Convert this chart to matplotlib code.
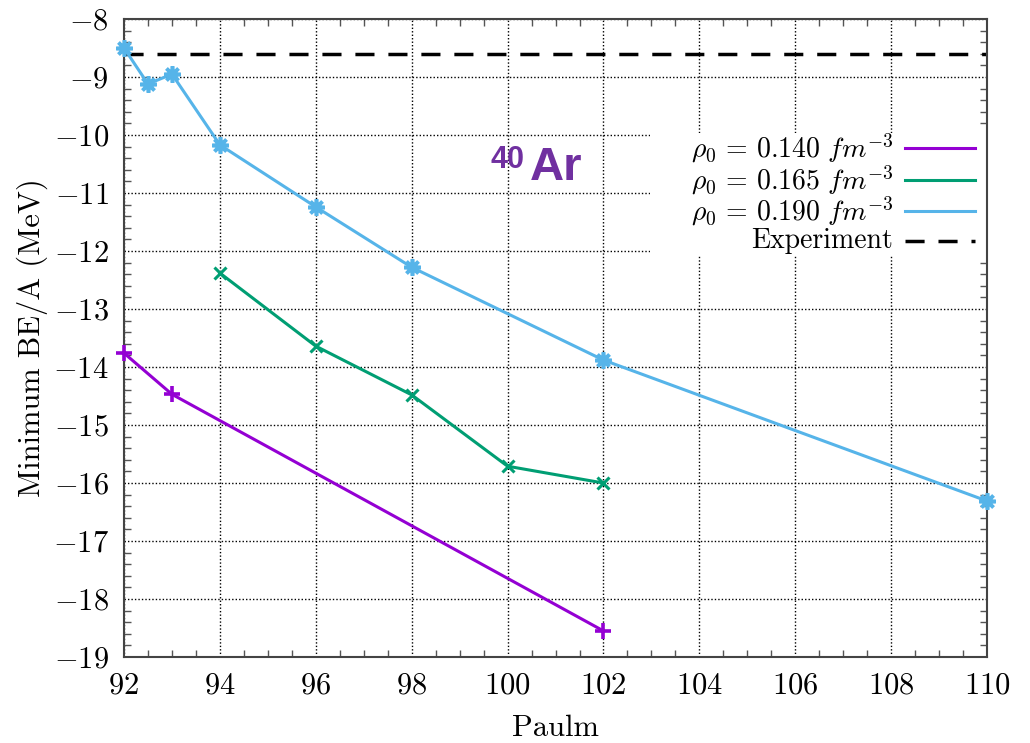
import matplotlib.pyplot as plt
from matplotlib.patches import Rectangle
from matplotlib.ticker import MultipleLocator

plt.rcParams['font.family'] = 'serif'
plt.rcParams['font.serif'] = ['cmr10']
plt.rcParams['mathtext.fontset'] = 'cm'
plt.rcParams['axes.formatter.use_mathtext'] = True

# rho0 = 0.140 fm^-3
paulm_140 = [92, 93, 102]
be_140 = [-13.76, -14.47, -18.55]

# rho0 = 0.165 fm^-3
paulm_165 = [94, 96, 98, 100, 102]
be_165 = [-12.38, -13.64, -14.48, -15.71, -16.0]

# rho0 = 0.190 fm^-3
paulm_190 = [92, 92.5, 93, 94, 96, 98, 102, 110]
be_190 = [-8.5, -9.12, -8.95, -10.17, -11.24, -12.28, -13.88, -16.31]

experiment = -8.6

labels = [r'$\rho_0\,=\,0.140\ fm^{-3}$', r'$\rho_0\,=\,0.165\ fm^{-3}$',
          r'$\rho_0\,=\,0.190\ fm^{-3}$', 'Experiment']

PURPLE = '#9400D3'
GREEN = '#009E73'
BLUE = '#56B4E9'


def draw_key(ax, lines):
    # gnuplot style key: text right-aligned, sample line to the right
    ax.add_patch(Rectangle((0.6095, 0.6285), 0.3905, 0.193, transform=ax.transAxes,
                           facecolor='white', edgecolor='none', zorder=2.4))
    rows = [0.7978, 0.7476, 0.6991, 0.6520]
    for y, lab, ln in zip(rows, labels, lines):
        ax.text(0.891, y, lab, transform=ax.transAxes, ha='right', va='center',
                fontsize=20, zorder=2.45)
        ax.plot([0.905, 0.986], [y, y], transform=ax.transAxes, color=ln.get_color(),
                lw=ln.get_linewidth(), ls=ln.get_linestyle(), zorder=2.45)


def main():
    fig = plt.figure(figsize=(10.3, 7.43), dpi=100)
    ax = fig.add_axes([0.1204, 0.1157, 0.8379, 0.8587])

    l1, = ax.plot(paulm_140, be_140, color=PURPLE, lw=2.2, marker='+', ms=11, mew=2.6,
                  clip_on=False, zorder=3)
    l2, = ax.plot(paulm_165, be_165, color=GREEN, lw=2.2, marker='x', ms=9, mew=2.2,
                  clip_on=False, zorder=3)
    l3, = ax.plot(paulm_190, be_190, color=BLUE, lw=2.2, marker=(8, 2, 0), ms=12, mew=2.6,
                  clip_on=False, zorder=3)
    l4 = ax.axhline(experiment, color='black', lw=2.5, dashes=(5.5, 4))

    ax.set_xlim(92, 110)
    ax.set_ylim(-19, -8)
    ax.xaxis.set_major_locator(MultipleLocator(2))
    ax.xaxis.set_minor_locator(MultipleLocator(0.5))
    ax.yaxis.set_major_locator(MultipleLocator(1))
    ax.yaxis.set_minor_locator(MultipleLocator(0.2))
    ax.grid(True, which='major', color='black', ls=(0, (1, 1.5)), lw=1.0)
    ax.set_axisbelow(True)

    ax.tick_params(which='both', direction='in', top=True, right=True,
                   color='#555555', labelsize=22)
    ax.tick_params(which='major', length=0, pad=11)
    ax.tick_params(which='minor', length=5, width=1)
    for s in ax.spines.values():
        s.set_color('#444444')
        s.set_linewidth(1.5)

    ax.set_xlabel('Paulm', fontsize=22, labelpad=11)
    ax.set_ylabel('Minimum BE/A (MeV)', fontsize=22)
    ax.yaxis.set_label_coords(-0.088, 0.5)

    draw_key(ax, [l1, l2, l3, l4])
    ax.lines[-1].set_dashes((5.5, 4))

    ax.text(100.47, -10.56, 'Ar', color='#7030A0', fontsize=34, fontweight='bold',
            family='Liberation Sans', va='center', ha='left')
    ax.text(100.36, -10.43, '40', color='#7030A0', fontsize=22, fontweight='bold',
            family='Liberation Sans', va='center', ha='right')

    fig.savefig('out.png', dpi=100)


if __name__ == '__main__':
    main()
